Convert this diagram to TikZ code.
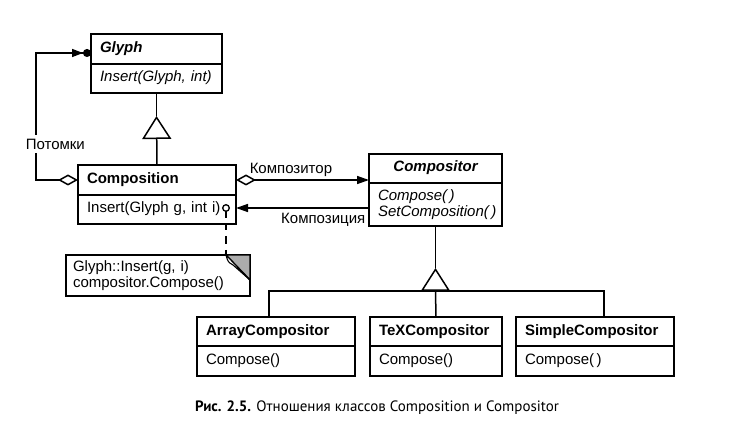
\documentclass[tikz,border=0pt]{standalone}
\usepackage{fontspec}
\setmainfont{Liberation Sans}
\newfontfamily\capfont{PT Sans}
\usetikzlibrary{positioning,arrows.meta}

\begin{document}
\begin{tikzpicture}[
                x=1pt, y=-1pt, line width=1.5pt,
                font=\fontsize{15}{16.5}\selectfont,
                classhead/.style = {rectangle, draw, anchor=north west, outer sep=0pt, inner xsep=9pt, inner ysep=0pt, minimum height=30pt, text height=11pt, text depth=4pt, align=left, font=\fontsize{15}{16.5}\selectfont\bfseries},
                classbody/.style = {rectangle, draw, outer sep=0pt, inner xsep=9pt, inner ysep=0pt, minimum height=29pt, align=left},
                oneline/.style = {text height=11pt, text depth=4pt},
                assoclabel/.style = {inner sep=0pt},
                isa/.style = {-{Triangle[open, length=23pt, width=29pt]}},
                hasmany/.style = {{Diamond[open, length=20pt, width=11pt]}-{Triangle[length=11pt, width=8pt]Circle[length=8pt]}},
                hasone/.style = {{Diamond[open, length=20pt, width=11pt]}-{Triangle[length=12pt, width=8pt]}},
                refers/.style = {-{Triangle[length=12pt, width=8pt]}}
        ]
        \useasboundingbox (0,0) rectangle (753,422);

        \node[classhead, text width=113pt] (glyphhead) at (91,34) {\itshape Glyph};
        \node[classbody, oneline, text width=113pt, below=0pt of glyphhead] (glyphbody) {\itshape Insert(Glyph, int)};

        \node[classhead, text width=140pt] (comphead) at (78,165) {Composition};
        \node[classbody, oneline, text width=140pt, below=0pt of comphead] (compbody) {Insert(Glyph g, int i)};

        \node[classhead, text width=115pt, minimum height=29pt, align=center] (compositorhead) at (369,154) {\itshape Compositor};
        \node[classbody, text width=115pt, minimum height=43pt, below=0pt of compositorhead] (compositorbody) {\itshape Compose(\,)\\\itshape SetComposition(\,)};

        \node[classhead, text width=140pt, minimum height=29pt] (arrayhead) at (197,317) {ArrayCompositor};
        \node[classbody, oneline, text width=140pt, minimum height=30pt, below=0pt of arrayhead] (arraybody) {Compose()};
        \node[classhead, text width=114pt, minimum height=29pt] (texhead) at (370,317) {TeXCompositor};
        \node[classbody, oneline, text width=114pt, minimum height=30pt, below=0pt of texhead] (texbody) {Compose()};
        \node[classhead, text width=140pt, minimum height=29pt] (simplehead) at (516,317) {SimpleCompositor};
        \node[classbody, oneline, text width=140pt, minimum height=30pt, below=0pt of simplehead] (simplebody) {Compose(\,)};

        \node[draw, anchor=north west, outer sep=0pt, inner xsep=7pt, inner ysep=0pt, text width=170pt, minimum height=41pt, align=left] (note) at (66,255) {Glyph::Insert(g, i)\\compositor.Compose()};
        \filldraw[fill=gray!65] ([xshift=-24pt]note.north east) -- (note.north east) -- ([yshift=-25pt]note.north east) -- cycle;
        \filldraw[fill=white, line width=1.1pt] ([xshift=-24pt]note.north east) .. controls ([xshift=-22pt,yshift=-7pt]note.north east) .. ([xshift=-17pt,yshift=-10pt]note.north east) -- ([yshift=-25pt]note.north east) -- cycle;

        % inheritance
        \coordinate (isa1) at ([yshift=-23pt]glyphbody.south);
        \draw[isa] (comphead.north) -- (isa1);
        \draw (isa1) -- (glyphbody.south);
        \coordinate (isa2) at ([yshift=-42pt]compositorbody.south);
        \coordinate (bus) at ([yshift=-65pt]compositorbody.south);
        \draw[isa] (bus) -- (isa2);
        \draw (isa2) -- (compositorbody.south);
        \draw ([xshift=-7pt]arrayhead.north) |- (bus) -| ([xshift=9pt]simplehead.north);
        \draw (bus) -- (texhead.north);

        % associations
        \draw[hasmany] (comphead.west) -- ++(-42,0) |- ([yshift=-4pt]glyphhead.west);
        \node[assoclabel, inner ysep=4pt, fill=white, anchor=west] (children) at (25,144) {Потомки};
        \draw[hasone] (comphead.east) -- (comphead.east -| compositorhead.west)
                node[assoclabel, pos=0, anchor=south west, xshift=13pt, yshift=2.5pt] {Композитор};
        \coordinate (lolli) at (226,208);
        \draw[refers] (compositorbody.west |- lolli) -- (compbody.east |- lolli)
                node[assoclabel, pos=0, anchor=north east, xshift=-3pt, yshift=-4.5pt] {Композиция};
        \draw[line width=1.3pt] (lolli) circle[radius=3.3pt];
        \draw[line width=1.3pt] ([yshift=-3.3pt]lolli) -- ++(0,7);
        \draw[dash pattern=on 8pt off 6pt, dash phase=2pt] (compbody.south -| lolli) -- ([xshift=-24pt]note.north east);

        \node[font=\capfont\fontsize{15}{17}\selectfont] (caption) at (377,408) {\textbf{Рис. 2.5.} Отношения классов Composition и Compositor};
\end{tikzpicture}
\end{document}
